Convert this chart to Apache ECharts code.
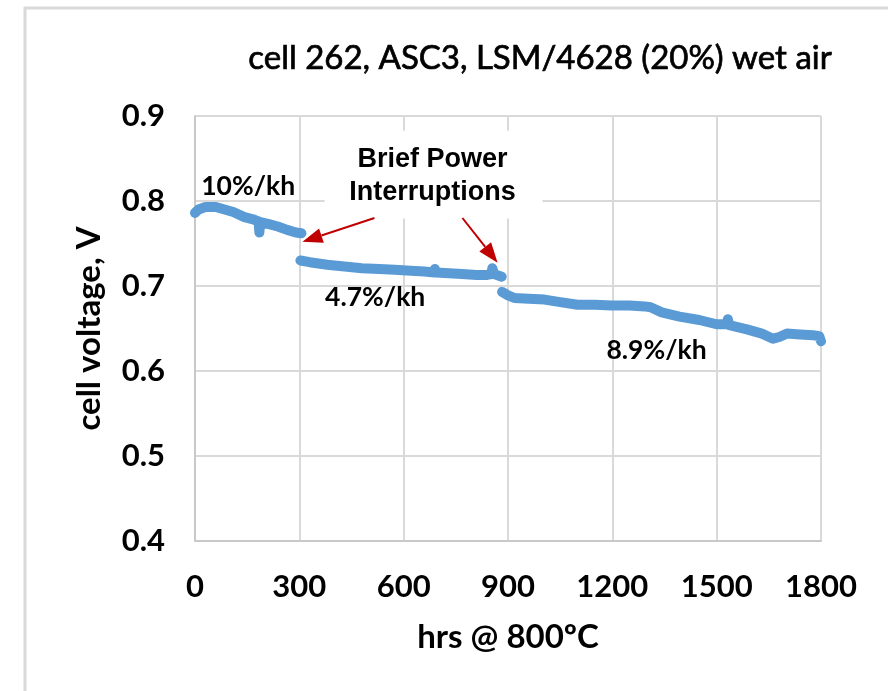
<!DOCTYPE html>
<html>
<head>
<meta charset="utf-8">
<script src="https://cdn.jsdelivr.net/npm/echarts@6/dist/echarts.min.js"></script>
<style>
html,body{margin:0;padding:0;background:#fff;}
#chart{width:888px;height:691px;}
</style>
</head>
<body>
<div id="chart"></div>
<script>
const titleText = 'cell 262, ASC3, LSM/4628 (20%) wet air';
const xName = 'hrs @ 800\u00baC';
const yName = 'cell voltage, V';
const xTicks = [0, 300, 600, 900, 1200, 1500, 1800];
const yTicks = [0.4, 0.5, 0.6, 0.7, 0.8, 0.9];

// segment 1: 0-300 h
const seg1Hours = [0, 10, 30, 60, 85, 110, 142, 170, 183, 185, 188, 210, 238, 265, 290, 306];
const seg1Volts = [0.786, 0.790, 0.793, 0.793, 0.790, 0.787, 0.781, 0.778, 0.776, 0.763, 0.775, 0.773, 0.770, 0.766, 0.763, 0.762];
// segment 2: 300-880 h
const seg2Hours = [303, 330, 380, 430, 480, 530, 574, 620, 660, 688, 690, 693, 730, 768, 810, 840, 852, 855, 860, 882];
const seg2Volts = [0.730, 0.728, 0.725, 0.723, 0.721, 0.720, 0.719, 0.718, 0.717, 0.716, 0.720, 0.716, 0.715, 0.714, 0.713, 0.713, 0.714, 0.721, 0.714, 0.711];
// segment 3: 880-1800 h
const seg3Hours = [883, 900, 918, 960, 1005, 1050, 1100, 1150, 1198, 1250, 1293, 1310, 1342, 1393, 1450, 1500, 1530, 1532, 1536, 1587, 1630, 1662, 1680, 1702, 1740, 1777, 1795, 1800];
const seg3Volts = [0.693, 0.689, 0.686, 0.685, 0.684, 0.681, 0.678, 0.678, 0.677, 0.677, 0.676, 0.675, 0.669, 0.664, 0.660, 0.655, 0.655, 0.661, 0.654, 0.649, 0.644, 0.638, 0.640, 0.644, 0.643, 0.642, 0.641, 0.635];

// annotations (data coordinates)
const rateLabels = [
  {text: '10%/kh', at: [153, 0.817]},
  {text: '4.7%/kh', at: [518, 0.686]},
  {text: '8.9%/kh', at: [1327, 0.624]}
];
const noteLines = ['Brief Power', 'Interruptions'];
const noteCenter = [683, 0.83];
const arrows = [
  {from: [516, 0.780], to: [309, 0.752]},
  {from: [769, 0.780], to: [870, 0.7275]}
];

const zip = (a, b) => a.map((v, i) => [v, b[i]]);
const lineColor = '#5B9BD5';
function seg(name, h, v) {
  return {
    name: name, type: 'line', data: zip(h, v), showSymbol: false, smooth: false,
    lineStyle: {color: lineColor, width: 10, cap: 'round', join: 'round'},
    z: 3, silent: true, animation: false
  };
}

const chart = echarts.init(document.getElementById('chart'), null, {renderer: 'canvas'});
const tickFont = {fontFamily: 'Lato', fontWeight: 'bold', fontSize: 31, color: '#000'};
const nameFont = {fontFamily: 'Lato', fontWeight: 'bold', fontSize: 33, color: '#000'};

chart.setOption({
  animation: false,
  backgroundColor: '#fff',
  title: {
    text: titleText, left: 535, top: 37, textAlign: 'center',
    textStyle: {fontFamily: 'Lato', fontWeight: 'normal', fontSize: 33, color: '#000',
      textBorderColor: '#000', textBorderWidth: 0.7}
  },
  grid: {left: 195, right: 67, top: 116, bottom: 150, containLabel: false},
  xAxis: {
    type: 'value', min: 0, max: 1800, interval: 300,
    name: xName, nameLocation: 'middle', nameGap: 80,
    nameTextStyle: nameFont,
    axisLine: {show: true, lineStyle: {color: '#c8c8c8', width: 2}},
    axisTick: {show: false},
    splitLine: {show: true, lineStyle: {color: '#d9d9d9', width: 2}},
    axisLabel: Object.assign({margin: 30, formatter: v => xTicks.includes(v) ? String(v) : ''}, tickFont)
  },
  yAxis: {
    type: 'value', min: 0.4, max: 0.9, interval: 0.1,
    name: yName, nameLocation: 'middle', nameGap: 89, nameRotate: 90,
    nameTextStyle: nameFont,
    axisLine: {show: true, lineStyle: {color: '#c8c8c8', width: 2}},
    axisTick: {show: false},
    splitLine: {show: true, lineStyle: {color: '#d9d9d9', width: 2}},
    axisLabel: Object.assign({margin: 30, formatter: v => v.toFixed(1)}, tickFont)
  },
  series: [seg('s1', seg1Hours, seg1Volts), seg('s2', seg2Hours, seg2Volts), seg('s3', seg3Hours, seg3Volts)]
});

function px(p) { return chart.convertToPixel({gridIndex: 0}, p); }
const g = [];
// outer frame
g.push({type: 'polyline', shape: {points: [[25, 691], [25, 8], [888, 8]]},
  style: {stroke: '#d9d9d9', lineWidth: 3, fill: null}, z: 1});
// white note box
const nc = px(noteCenter);
g.push({type: 'rect', shape: {x: nc[0] - 108, y: nc[1] - 45, width: 218, height: 88},
  style: {fill: '#fff'}, z: 10});
g.push({type: 'text', x: nc[0], y: nc[1] - 16,
  style: {text: noteLines[0], fontFamily: 'Liberation Sans', fontWeight: 'bold', fontSize: 27,
    fill: '#000', textAlign: 'center', textVerticalAlign: 'middle'}, z: 11});
g.push({type: 'text', x: nc[0], y: nc[1] + 17,
  style: {text: noteLines[1], fontFamily: 'Liberation Sans', fontWeight: 'bold', fontSize: 27,
    fill: '#000', textAlign: 'center', textVerticalAlign: 'middle'}, z: 11});
rateLabels.forEach(r => {
  const p = px(r.at);
  g.push({type: 'text', x: p[0], y: p[1],
    style: {text: r.text, fontFamily: 'Lato', fontWeight: 'bold', fontSize: 26.5,
      fill: '#000', textAlign: 'center', textVerticalAlign: 'middle'}, z: 11});
});
arrows.forEach(a => {
  const s = px(a.from), t = px(a.to);
  const dx = t[0] - s[0], dy = t[1] - s[1];
  const L = Math.hypot(dx, dy), ux = dx / L, uy = dy / L;
  const hl = 20, hw = 7.5;
  const bx = t[0] - ux * hl, by = t[1] - uy * hl;
  g.push({type: 'line', shape: {x1: s[0], y1: s[1], x2: bx, y2: by},
    style: {stroke: '#C00000', lineWidth: 2}, z: 12});
  g.push({type: 'polygon', shape: {points: [[t[0], t[1]], [bx - uy * hw, by + ux * hw], [bx + uy * hw, by - ux * hw]]},
    style: {fill: '#C00000'}, z: 12});
});
chart.setOption({graphic: g});
</script>
</body>
</html>
